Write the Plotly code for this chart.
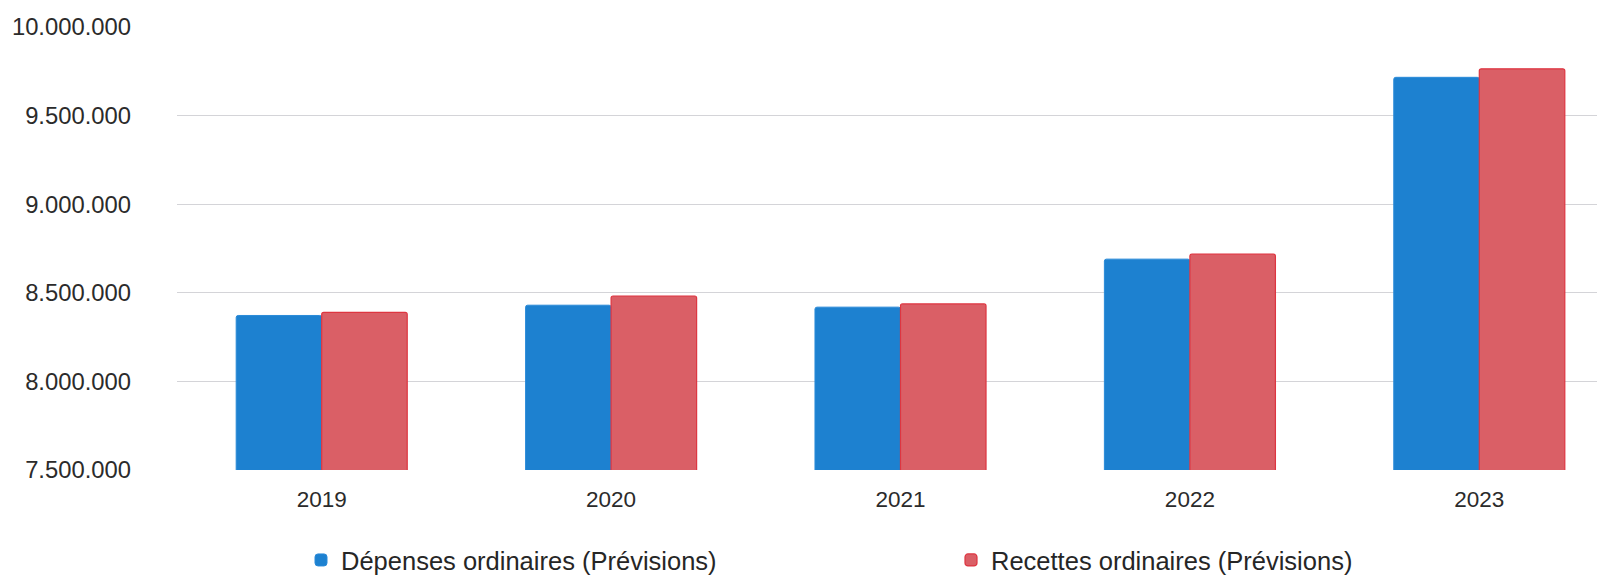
import plotly.graph_objects as go

years = ["2019", "2020", "2021", "2022", "2023"]
depenses = [8372000, 8430000, 8419000, 8690000, 9716000]
recettes = [8389000, 8482000, 8437000, 8718000, 9764000]
y_ticks = [7500000, 8000000, 8500000, 9000000, 9500000, 10000000]

name_dep = "Dépenses ordinaires (Prévisions)"
name_rec = "Recettes ordinaires (Prévisions)"

W, H = 1605, 576
ML, MR, MT, MB = 169, 0, 19, 106
PW = W - ML - MR
PH = H - MT - MB


def px_x(px):
    return (px - ML) / PW


def px_y(py):
    return (H - MB - py) / PH


fig = go.Figure()
fig.add_trace(go.Bar(
    x=years, y=depenses, name=name_dep, showlegend=True,
    marker=dict(color="#1d81d0", line=dict(color="#2a8ad8", width=1), cornerradius=2),
    legend="legend",
))
fig.add_trace(go.Bar(
    x=years, y=recettes, name=name_rec, showlegend=True,
    marker=dict(color="#da5f66", line=dict(color="#de3540", width=1.2), cornerradius=2),
    legend="legend2",
))

font_fam = "Liberation Sans, Arial, sans-serif"
legend_font = dict(size=25.5, color="#262626", family=font_fam)

fig.update_layout(
    width=W, height=H,
    margin=dict(l=ML, r=MR, t=MT, b=MB, pad=0),
    paper_bgcolor="white", plot_bgcolor="white",
    barmode="group", bargap=0.409, bargroupgap=0,
    separators=",.",
    showlegend=True,
    font=dict(family=font_fam, color="#2b2b2b", size=22),
    legend=dict(
        orientation="h", x=px_x(293), y=px_y(562),
        xanchor="left", yanchor="middle",
        font=legend_font, bgcolor="rgba(0,0,0,0)", itemwidth=30,
    ),
    legend2=dict(
        orientation="h", x=px_x(943), y=px_y(562),
        xanchor="left", yanchor="middle",
        font=legend_font, bgcolor="rgba(0,0,0,0)", itemwidth=30,
    ),
    xaxis=dict(
        type="category", range=[-0.5, 4.462],
        showgrid=False, showline=False, zeroline=False, ticks="",
        tickfont=dict(size=22.5, color="#2b2b2b"),
        ticklabelstandoff=13,
    ),
    yaxis=dict(
        range=[7500000, 10000000], tickvals=y_ticks, tickformat=",d",
        showgrid=True, gridcolor="#d4d4d8", gridwidth=1,
        zeroline=False, showline=False, ticks="",
        tickfont=dict(size=23.8, color="#2b2b2b"),
        ticklabelstandoff=45,
    ),
)

fig.write_html("out.html")
